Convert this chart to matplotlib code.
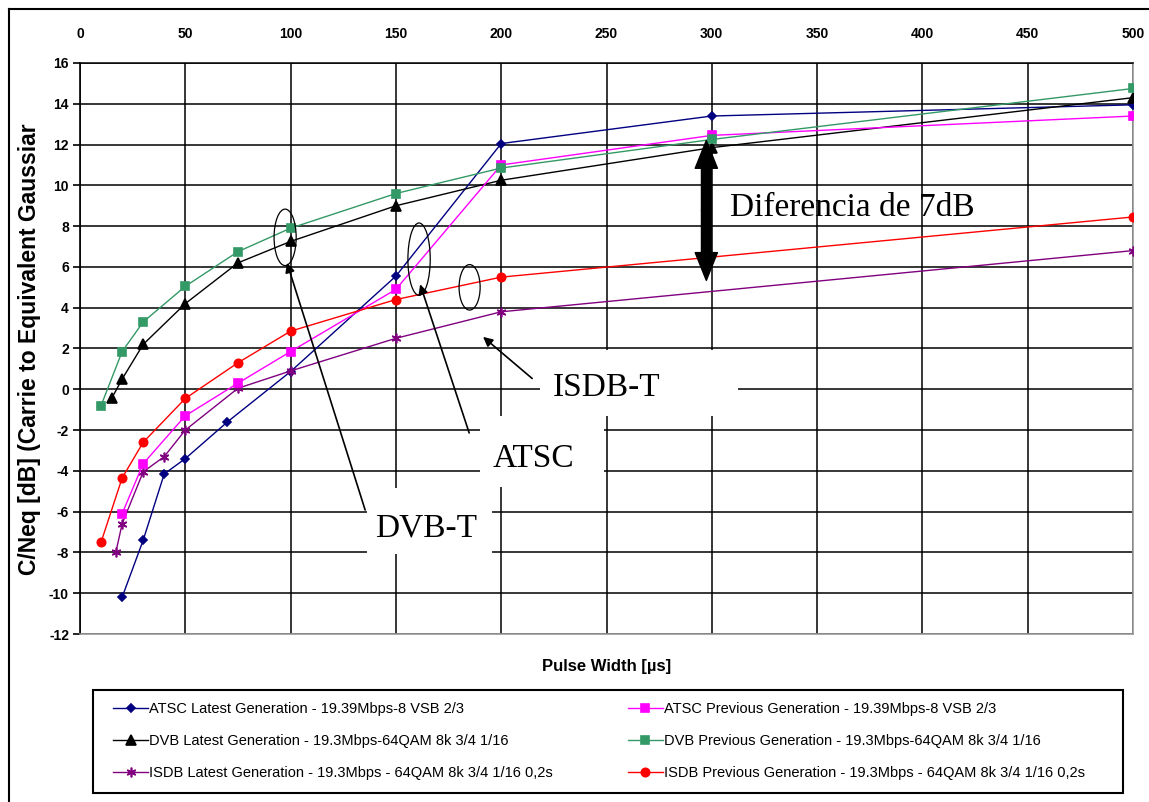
import matplotlib.pyplot as plt
from matplotlib.patches import Ellipse, Rectangle
from matplotlib.lines import Line2D

# pulse width [us] and C/Neq [dB]
x_atsc_latest = [20, 30, 40, 50, 70, 100, 150, 200, 300, 500]
y_atsc_latest = [-10.2, -7.4, -4.15, -3.4, -1.6, 0.87, 5.55, 12.05, 13.4, 13.95]

x_atsc_prev = [20, 30, 50, 75, 100, 150, 200, 300, 500]
y_atsc_prev = [-6.1, -3.65, -1.3, 0.3, 1.85, 4.9, 11.0, 12.45, 13.4]

x_dvb_latest = [15, 20, 30, 50, 75, 100, 150, 200, 300, 500]
y_dvb_latest = [-0.45, 0.5, 2.2, 4.2, 6.2, 7.25, 9.0, 10.25, 11.85, 14.3]

x_dvb_prev = [10, 20, 30, 50, 75, 100, 150, 200, 300, 500]
y_dvb_prev = [-0.8, 1.85, 3.3, 5.05, 6.75, 7.9, 9.6, 10.85, 12.25, 14.75]

x_isdb_latest = [17, 20, 30, 40, 50, 75, 100, 150, 200, 500]
y_isdb_latest = [-8.0, -6.6, -4.05, -3.3, -2.0, 0.05, 0.9, 2.5, 3.8, 6.8]

x_isdb_prev = [10, 20, 30, 50, 75, 100, 150, 200, 500]
y_isdb_prev = [-7.5, -4.35, -2.6, -0.45, 1.3, 2.85, 4.4, 5.5, 8.45]

labels = [
    "ATSC Latest Generation - 19.39Mbps-8 VSB 2/3",
    "DVB Latest Generation - 19.3Mbps-64QAM 8k 3/4 1/16",
    "ISDB Latest Generation - 19.3Mbps - 64QAM 8k 3/4 1/16 0,2s",
    "ATSC Previous Generation - 19.39Mbps-8 VSB 2/3",
    "DVB Previous Generation - 19.3Mbps-64QAM 8k 3/4 1/16",
    "ISDB Previous Generation - 19.3Mbps - 64QAM 8k 3/4 1/16 0,2s",
]

plt.rcParams["font.family"] = ["Liberation Sans", "DejaVu Sans"]
plt.rcParams["axes.unicode_minus"] = False

W, H = 1149, 802
fig = plt.figure(figsize=(W / 100, H / 100), dpi=100)
ax = fig.add_axes([80 / W, 1 - 634 / H, 1053 / W, 571 / H])

series = [
    (x_atsc_latest, y_atsc_latest, "#000080", "D", 4.5),
    (x_dvb_latest, y_dvb_latest, "black", "^", 6.5),
    (x_isdb_latest, y_isdb_latest, "#800080", (6, 2, 0), 7),
    (x_atsc_prev, y_atsc_prev, "#FF00FF", "s", 5.5),
    (x_dvb_prev, y_dvb_prev, "#339966", "s", 5.5),
    (x_isdb_prev, y_isdb_prev, "#FF0000", "o", 6),
]
handles = []
for (xs, ys, c, m, ms), lab in zip(series, labels):
    h, = ax.plot(xs, ys, color=c, marker=m, markersize=ms, lw=1.0,
                 markeredgewidth=1.2, label=lab, zorder=3)
    handles.append(h)

ax.set_xlim(0, 500)
ax.set_ylim(-12, 16)
ax.set_xticks(range(0, 501, 50))
ax.set_yticks(range(-12, 17, 2))
ax.xaxis.tick_top()
ax.tick_params(axis="x", length=0, pad=16, labelsize=10)
ax.tick_params(axis="y", length=5, width=1.2, pad=3, labelsize=10)
for lab in ax.get_xticklabels() + ax.get_yticklabels():
    lab.set_fontweight("bold")
ax.set_axisbelow(True)
ax.grid(True, color="black", lw=1.1)
ax.spines["left"].set_linewidth(1.2)
ax.spines["top"].set_linewidth(1.1)
for s in ["right", "bottom"]:
    ax.spines[s].set_color("#999999")
    ax.spines[s].set_linewidth(1.2)

# white boxes behind the labels
for x0, x1, y0, y1 in [(218.5, 312.6, -1.31, 1.94),
                       (190, 248.9, -4.81, -1.31),
                       (136.3, 195.7, -8.1, -4.85)]:
    ax.add_patch(Rectangle((x0, y0), x1 - x0, y1 - y0, facecolor="white",
                           edgecolor="none", zorder=4))

serif = dict(family="Liberation Serif", fontsize=24, zorder=5)
ax.text(249.9, -0.34, "ISDB-T", ha="center", va="baseline", **serif)
ax.text(215.2, -3.82, "ATSC", ha="center", va="baseline", **serif)
ax.text(164.4, -7.22, "DVB-T", ha="center", va="baseline", **serif)
ax.text(308.8, 8.48, "Diferencia de 7dB", ha="left", va="baseline", **serif)

# ellipses around the groups
for cx, cy, w, h in [(97.4, 7.45, 10.5, 2.77), (161, 6.38, 10.6, 3.55), (185, 5.0, 10, 2.23)]:
    ax.add_patch(Ellipse((cx, cy), w, h, facecolor="none", edgecolor="black", lw=0.9, zorder=4))

thin = dict(arrowstyle="-|>", color="black", lw=1.2, mutation_scale=14, shrinkA=0, shrinkB=0)
ax.annotate("", xy=(98.3, 6.2), xytext=(135.4, -5.92), arrowprops=thin, zorder=4)
ax.annotate("", xy=(161.5, 5.15), xytext=(184.8, -2.14), arrowprops=thin, zorder=4)
ax.annotate("", xy=(191.4, 2.57), xytext=(214.7, 0.53), arrowprops=thin, zorder=4)

# double arrow for the 7 dB gap
thick = dict(width=7, headwidth=16, headlength=20, color="black", shrink=0)
ax.annotate("", xy=(297.4, 12.2), xytext=(297.4, 8.77), arrowprops=thick, zorder=4)
ax.annotate("", xy=(297.4, 5.34), xytext=(297.4, 8.77), arrowprops=thick, zorder=4)

fig.text(607 / W, 1 - 667 / H, "Pulse Width [µs]", ha="center", va="center",
         fontsize=12, fontweight="bold")
fig.text(29.5 / W, 1 - 349.5 / H, "C/Neq [dB] (Carrie to Equivalent Gaussiar",
         rotation=90, ha="center", va="center", fontsize=16.5, fontweight="bold")

# legend without its own frame, framed by a separate box
fig.legend(handles, labels, ncol=2, loc="upper left",
           bbox_to_anchor=(113 / W, 1 - 702 / H), borderaxespad=0, borderpad=0,
           fontsize=10.5, handlelength=2.4, handletextpad=0.1, labelspacing=1.25,
           columnspacing=5.1, frameon=False)
fig.add_artist(Rectangle((93 / W, 1 - 793 / H), 1030 / W, 103 / H, transform=fig.transFigure,
                         facecolor="none", edgecolor="black", lw=1.5))

# outer frame (left and top edges)
fig.add_artist(Line2D([9 / W, 9 / W], [0, 1 - 9 / H], transform=fig.transFigure,
                      color="black", lw=1.5))
fig.add_artist(Line2D([9 / W, 1], [1 - 9 / H, 1 - 9 / H], transform=fig.transFigure,
                      color="black", lw=1.5))

fig.savefig("out.png", dpi=100)
